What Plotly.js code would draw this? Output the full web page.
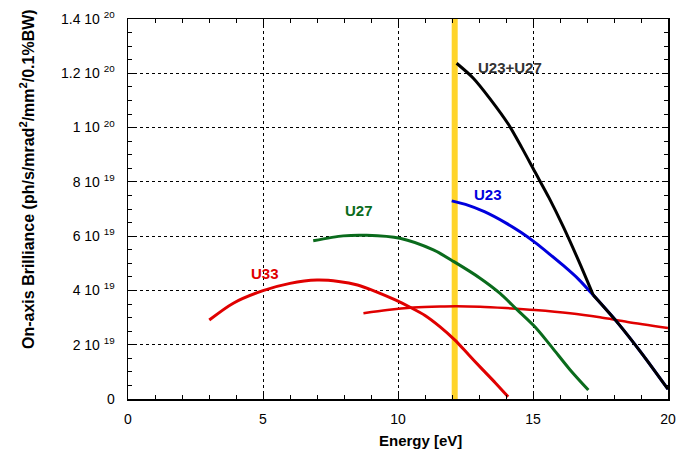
<!DOCTYPE html>
<html>
<head>
<meta charset="utf-8">
<script src="https://cdn.plot.ly/plotly-3.0.1.min.js"></script>
<style>html,body{margin:0;padding:0;background:#fff;}#chart{width:689px;height:455px;}</style>
</head>
<body>
<div id="chart"></div>
<script>
// Energy in eV, brilliance in units of 1e19 ph/s/mrad^2/mm^2/0.1%BW
const u33lowE = [3.01, 3.9, 5.0, 6.0, 7.0, 7.8, 8.5, 9.2, 9.9, 10.45, 11.0, 11.56, 12.1, 12.6, 13.1, 13.6, 14.08];
const u33lowB = [2.91, 3.53, 3.99, 4.26, 4.38, 4.33, 4.20, 3.95, 3.65, 3.38, 3.08, 2.66, 2.18, 1.65, 1.12, 0.60, 0.08];
const u33highE = [8.72, 9.6, 10.57, 11.56, 12.17, 13.04, 14.0, 15.07, 16.37, 17.48, 18.5, 20.0];
const u33highB = [3.16, 3.28, 3.37, 3.41, 3.42, 3.40, 3.35, 3.28, 3.16, 3.01, 2.84, 2.62];
const u27E = [6.86, 7.97, 8.84, 10.07, 11.31, 12.07, 13.04, 13.78, 14.4, 15.07, 15.69, 16.37, 17.05];
const u27B = [5.83, 6.01, 6.03, 5.92, 5.49, 5.06, 4.45, 3.89, 3.30, 2.66, 1.92, 1.08, 0.33];
const u23E = [11.99, 12.5, 13.2, 14.02, 14.55, 15.07, 15.6, 16.12, 16.7, 17.23, 18.1, 19.09, 20.0];
const u23B = [7.30, 7.17, 6.90, 6.47, 6.14, 5.77, 5.35, 4.92, 4.40, 3.83, 2.85, 1.60, 0.36];
const sumE = [12.17, 12.79, 13.41, 14.09, 14.58, 15.07, 15.6, 16.12, 16.7, 17.23, 18.1, 19.09, 20.0];
const sumB = [12.37, 11.82, 11.06, 10.12, 9.27, 8.37, 7.40, 6.35, 5.07, 3.83, 2.85, 1.60, 0.36];
const sumKinkIndex = 9;
const cutE = [12.1, 12.1];
const cutB = [0, 14];
const ytickVals = [0, 2, 4, 6, 8, 10, 12, 14];
const ytickText = ['0', '2 10 <sup>19</sup>', '4 10 <sup>19</sup>', '6 10 <sup>19</sup>', '8 10 <sup>19</sup>', '1 10 <sup>20</sup>', '1.2 10 <sup>20</sup>', '1.4 10 <sup>20</sup>'];
const xtickVals = [0, 5, 10, 15, 20];
const labels = ['U33', 'U27', 'U23', 'U23+U27'];
const labelPos = [[5.07, 4.64], [8.57, 6.93], [13.35, 7.55], [14.15, 12.23]];
const labelColors = ['#e00000', '#0a6b1c', '#0000dd', '#333333'];
const xTitle = 'Energy [eV]';
const yTitle = 'On-axis Brilliance (ph/s/mrad<sup>2</sup>/mm<sup>2</sup>/0.1%BW)';

const scale = 1e19;
const toAbs = a => a.map(v => v * scale);
const FONT = 'Liberation Sans, Arial, Helvetica, sans-serif';

const traces = [
  {x: cutE, y: toAbs(cutB), mode: 'lines', line: {color: '#ffd42a', width: 6}},
  {x: u33lowE, y: toAbs(u33lowB), mode: 'lines', line: {color: '#e00000', width: 3, shape: 'spline', smoothing: 0.8}},
  {x: u33highE, y: toAbs(u33highB), mode: 'lines', line: {color: '#e00000', width: 2.5, shape: 'spline', smoothing: 0.8}},
  {x: u27E, y: toAbs(u27B), mode: 'lines', line: {color: '#0a6b1c', width: 3, shape: 'spline', smoothing: 0.8}},
  {x: u23E, y: toAbs(u23B), mode: 'lines', line: {color: '#0000dd', width: 3, shape: 'spline', smoothing: 0.6}},
  {x: sumE.slice(0, sumKinkIndex + 1), y: toAbs(sumB.slice(0, sumKinkIndex + 1)), mode: 'lines', line: {color: '#000000', width: 3, shape: 'spline', smoothing: 0.8}},
  {x: sumE.slice(sumKinkIndex), y: toAbs(sumB.slice(sumKinkIndex)), mode: 'lines', line: {color: '#000000', width: 3, shape: 'spline', smoothing: 0.5}}
];

const annotations = labels.map((t, i) => ({
  x: labelPos[i][0], y: labelPos[i][1] * scale, text: '<b>' + t + '</b>',
  showarrow: false, font: {family: FONT, size: 15, color: labelColors[i]}
}));
annotations.push({
  xref: 'paper', yref: 'paper', x: (420 - 128) / 540, y: -(440 - 399) / 380,
  xanchor: 'center', yanchor: 'middle', showarrow: false,
  text: '<b>' + xTitle + '</b>', font: {family: FONT, size: 15, color: '#000'}
});
annotations.push({
  xref: 'paper', yref: 'paper', x: -(128 - 27) / 540, y: (399 - 179) / 380,
  xanchor: 'center', yanchor: 'middle', showarrow: false, textangle: -90,
  text: '<b>' + yTitle + '</b>', font: {family: FONT, size: 16, color: '#000'}
});

const axisCommon = {
  showline: true, linecolor: '#000', linewidth: 1.5, mirror: 'allticks',
  ticks: 'inside', ticklen: 6, tickcolor: '#000', tickwidth: 1,
  showgrid: true, gridcolor: '#000', griddash: 'dot', gridwidth: 1,
  zeroline: false,
  tickfont: {family: FONT, size: 14, color: '#000'}
};

const layout = {
  width: 689, height: 455,
  margin: {l: 128, r: 21, t: 19, b: 56},
  paper_bgcolor: '#fff', plot_bgcolor: '#fff',
  showlegend: false,
  font: {family: FONT, color: '#000'},
  xaxis: Object.assign({}, axisCommon, {
    range: [0, 20], tickvals: xtickVals, ticklabelstandoff: 7,
    minor: {dtick: 1, tick0: 0, ticks: 'inside', ticklen: 4, tickcolor: '#000', showgrid: false}
  }),
  yaxis: Object.assign({}, axisCommon, {
    range: [0, 14 * scale], tickvals: toAbs(ytickVals), ticktext: ytickText, ticklabelstandoff: 9,
    minor: {dtick: 0.5 * scale, tick0: 0, ticks: 'inside', ticklen: 4, tickcolor: '#000', showgrid: false}
  }),
  annotations: annotations
};

Plotly.newPlot('chart', traces, layout, {displayModeBar: false, staticPlot: true});
</script>
</body>
</html>
